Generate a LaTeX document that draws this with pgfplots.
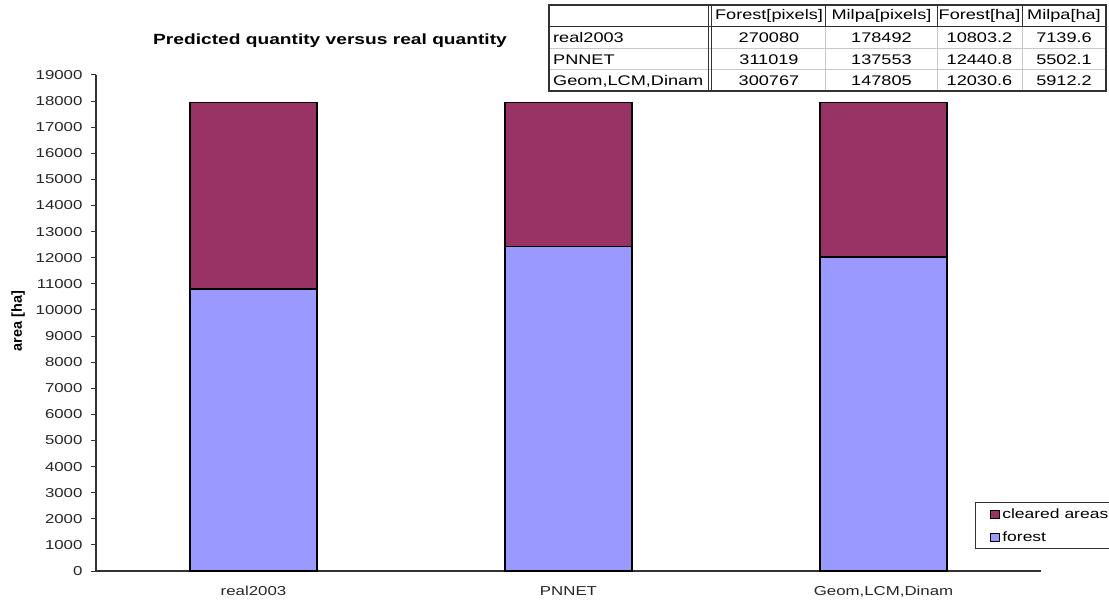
\documentclass[border=0pt]{standalone}
\usepackage{fontspec}
\setmainfont{Liberation Sans}[FakeStretch=1.3]
\newfontfamily\plainfont{Liberation Sans}
\usepackage{pgfplots}
\pgfplotsset{compat=1.18}
\definecolor{forestc}{RGB}{153,153,255}
\definecolor{clearedc}{RGB}{153,51,102}
\definecolor{axisc}{RGB}{50,50,50}
\definecolor{gridc}{RGB}{200,200,200}
\begin{document}
\begin{tikzpicture}
\begin{axis}[
  at={(0,0)}, anchor=south west,
  scale only axis, width=945bp, height=496bp,
  xmin=-0.5, xmax=2.5, ymin=0, ymax=19000,
  ybar stacked, bar width=127bp,
  axis x line*=bottom, axis y line*=left,
  axis line style={line width=1.2bp, color=axisc, -},
  xtick={0,1,2}, xticklabels={real2003,PNNET,{Geom,LCM,Dinam}},
  x tick style={draw=none},
  ytick distance=1000,
  scaled y ticks=false,
  y tick style={line width=1bp, color=axisc},
  tick align=outside, major tick length=5bp,
  /pgf/number format/1000 sep={},
  /pgf/number format/assume math mode=true,
  tick label style={font=\fontsize{13}{15}\selectfont, text=black!85},
  yticklabel style={xshift=-5bp},
  xticklabel style={yshift=-7bp},
  ylabel={\plainfont\bfseries\fontsize{14.5}{16}\selectfont area [ha]},
  ylabel style={at={(axis description cs:-0.0825,0.504)}, anchor=center},
  reverse legend,
  legend cell align=left,
  legend style={at={(axis description cs:0.9302,0.1391)}, anchor=north west,
    draw=axisc, line width=1bp, font=\fontsize{13.5}{15}\selectfont,
    inner xsep=14bp, inner ysep=4bp, row sep=8bp,
    nodes={inner xsep=3bp}},
  legend image code/.code={\draw[#1,draw=black,line width=0.8bp] (0bp,-4bp) rectangle (9bp,4bp);},
]
\addplot[fill=forestc, draw=black, line width=1.2bp] coordinates {(0,10803.2) (1,12440.8) (2,12030.6)};
\addlegendentry{forest}
\addplot[fill=clearedc, draw=black, line width=1.2bp] coordinates {(0,7139.6) (1,5502.1) (2,5912.2)};
\addlegendentry{cleared areas}
\end{axis}
\node[font=\bfseries\fontsize{14.8}{17}\selectfont] at (234bp,530bp) {Predicted quantity versus real quantity};
\begin{scope}[shift={(-96bp,571bp)}, x=1bp, y=-1bp]
  \fill[white] (549,5) rectangle (1106,91);
  % light inner lines
  \draw[gridc, line width=1bp] (549,49) -- (1106,49) (549,70) -- (1106,70);
  \draw[gridc, line width=1bp] (826,27) -- (826,91) (937,27) -- (937,91) (1022,27) -- (1022,91);
  % dark lines
  \draw[axisc, line width=1bp] (549,27) -- (1106,27);
  \draw[axisc, line width=1bp] (826,5) -- (826,27) (937,5) -- (937,27) (1022,5) -- (1022,27);
  \draw[axisc, line width=1bp] (709,5) -- (709,91) (712,5) -- (712,91);
  \draw[axisc, line width=1.2bp] (549,5) rectangle (1106,91);
  \begin{scope}[every node/.style={font=\fontsize{14}{16}\selectfont, inner sep=0pt}]
    \node at (769,16) {Forest[pixels]};
    \node at (881.5,16) {Milpa[pixels]};
    \node at (979.5,16) {Forest[ha]};
    \node at (1064,16) {Milpa[ha]};
    \node[anchor=west] at (553,38) {real2003};
    \node[anchor=west] at (553,60) {PNNET};
    \node[anchor=west] at (553,81) {Geom,LCM,Dinam};
    \node at (769,38) {270080};  \node at (881.5,38) {178492}; \node at (979.5,38) {10803.2}; \node at (1064,38) {7139.6};
    \node at (769,60) {311019};  \node at (881.5,60) {137553}; \node at (979.5,60) {12440.8}; \node at (1064,60) {5502.1};
    \node at (769,81) {300767};  \node at (881.5,81) {147805}; \node at (979.5,81) {12030.6}; \node at (1064,81) {5912.2};
  \end{scope}
\end{scope}
\pgfresetboundingbox
\path[use as bounding box] (-96bp,-32bp) rectangle (1013bp,571bp);
\end{tikzpicture}
\end{document}
